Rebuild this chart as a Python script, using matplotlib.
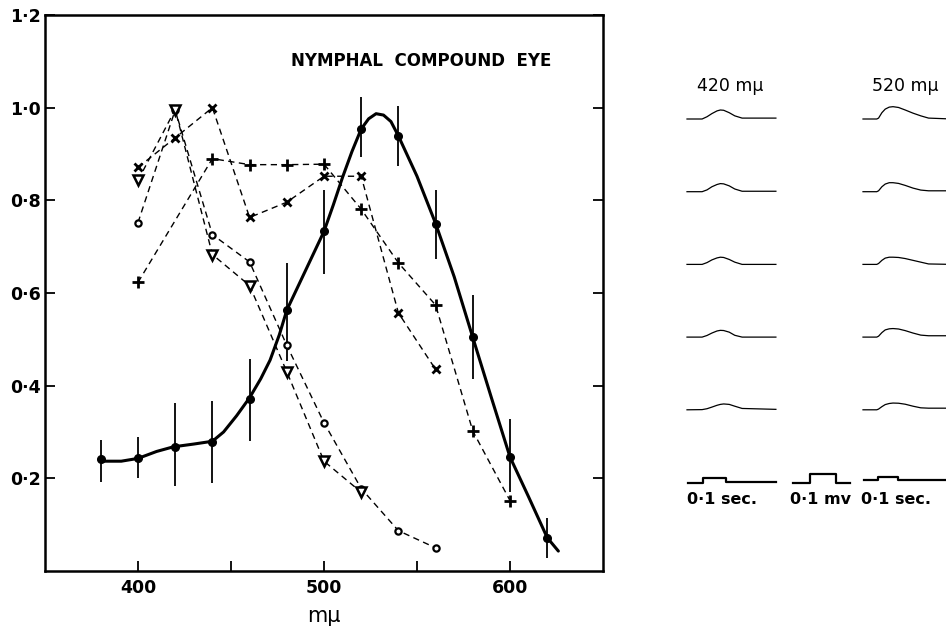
import matplotlib
matplotlib.use('Agg')
import matplotlib.pyplot as plt

# ---- main spectral sensitivity data ----
wl = [380, 400, 420, 440, 460, 480, 500, 520, 540, 560, 580, 600, 620]
mean_resp = [0.241, 0.243, 0.268, 0.278, 0.371, 0.563, 0.733, 0.954, 0.939, 0.750, 0.504, 0.246, 0.072]
err_lo = [0.193, 0.200, 0.184, 0.191, 0.281, 0.454, 0.641, 0.893, 0.874, 0.674, 0.415, 0.170, 0.028]
err_hi = [0.283, 0.289, 0.363, 0.367, 0.458, 0.665, 0.822, 1.022, 1.004, 0.822, 0.596, 0.329, 0.115]

# hand drawn smooth curve
curve_x = [381, 391, 400, 410, 419, 430, 440, 446, 453, 460, 466, 471, 476, 480, 490, 500, 505,
           510, 515, 520, 524, 528, 532, 536, 540, 550, 560, 570, 580, 590, 600, 610, 620, 626]
curve_y = [0.237, 0.237, 0.243, 0.258, 0.268, 0.274, 0.280, 0.300, 0.335, 0.374, 0.415, 0.455,
           0.510, 0.563, 0.648, 0.733, 0.790, 0.850, 0.905, 0.954, 0.976, 0.987, 0.984, 0.970,
           0.939, 0.852, 0.750, 0.635, 0.504, 0.374, 0.246, 0.160, 0.072, 0.043]

# individual animals (dashed)
circ_x = [400, 420, 440, 460, 480, 500, 520, 540, 560]
circ_y = [0.752, 0.995, 0.726, 0.667, 0.487, 0.320, 0.178, 0.087, 0.050]

tri_x = [400, 420, 440, 460, 480, 500, 520]
tri_y = [0.843, 0.996, 0.683, 0.616, 0.430, 0.237, 0.170]

cross_x = [400, 420, 440, 460, 480, 500, 520, 540, 560]
cross_y = [0.871, 0.935, 1.000, 0.763, 0.796, 0.852, 0.852, 0.557, 0.435]

plus_x = [400, 440, 460, 480, 500, 520, 540, 560, 580, 600]
plus_y = [0.623, 0.890, 0.877, 0.877, 0.878, 0.781, 0.665, 0.574, 0.302, 0.152]

# ---- recordings (time in ms, potential in mV) ----
t420 = [0, 68, 90, 112, 135, 150, 165, 190, 215, 248, 400]
rec420 = [
    [0, 0, 0.025, 0.060, 0.090, 0.100, 0.097, 0.070, 0.035, 0.010, 0.010],
    [0, 0, 0.020, 0.055, 0.080, 0.090, 0.087, 0.065, 0.030, 0.005, 0.005],
    [0, 0, 0.020, 0.050, 0.072, 0.080, 0.077, 0.055, 0.025, 0.000, 0.000],
    [0, 0, 0.018, 0.045, 0.068, 0.075, 0.073, 0.055, 0.020, 0.000, 0.000],
    [0, 0.002, 0.012, 0.030, 0.050, 0.060, 0.065, 0.060, 0.040, 0.015, 0.005],
]
t520 = [0, 62, 70, 85, 100, 118, 135, 160, 190, 225, 260, 295, 400]
rec520 = [
    [0, 0, 0.010, 0.070, 0.110, 0.132, 0.137, 0.128, 0.100, 0.065, 0.035, 0.010, 0.000],
    [0, 0, 0.010, 0.055, 0.085, 0.100, 0.100, 0.092, 0.070, 0.040, 0.018, 0.010, 0.010],
    [0, 0, 0.010, 0.045, 0.070, 0.080, 0.080, 0.077, 0.065, 0.045, 0.025, 0.005, 0.000],
    [0, 0, 0.010, 0.050, 0.080, 0.092, 0.095, 0.090, 0.072, 0.045, 0.022, 0.015, 0.015],
    [0, 0, 0.008, 0.035, 0.058, 0.070, 0.075, 0.073, 0.062, 0.040, 0.022, 0.018, 0.018],
]
stim420_t = [5, 72, 72, 175, 175, 400]
stim420_v = [0, 0, 0.045, 0.045, 0.005, 0.005]
cal_t = [0, 76, 76, 193, 193, 256]
cal_v = [0, 0, 0.1, 0.1, 0, 0]
stim520_t = [5, 68, 68, 158, 158, 400]
stim520_v = [0.005, 0.005, 0.040, 0.040, 0.010, 0.010]

ytick_vals = [0.2, 0.4, 0.6, 0.8, 1.0, 1.2]
ytick_labels = ['0·2', '0·4', '0·6', '0·8', '1·0', '1·2']
xtick_vals = [400, 450, 500, 550, 600]
xtick_labels = ['400', '', '500', '', '600']

W, H = 946, 630
fig = plt.figure(figsize=(W / 100, H / 100), dpi=100)

# main panel
ax = fig.add_axes([45 / W, 1 - 571 / H, (603 - 45) / W, (571 - 15) / H])
ax.set_xlim(350, 650)
ax.set_ylim(0, 1.2)

dash = dict(color='black', lw=1.0, dashes=(4.5, 3.2))
ax.plot(circ_x, circ_y, marker='o', ms=4.5, mfc='white', mec='black', mew=1.6, zorder=3, **dash)
ax.plot(cross_x, cross_y, marker='x', ms=5.5, mew=2.0, mec='black', zorder=3, **dash)
ax.plot(plus_x, plus_y, marker='+', ms=8, mew=2.0, mec='black', zorder=3, **dash)
ax.plot(tri_x, tri_y, marker='v', ms=7, mfc='white', mec='black', mew=1.8, zorder=4, **dash)

ax.vlines(wl, err_lo, err_hi, color='black', lw=1.3, zorder=2)
ax.plot(curve_x, curve_y, color='black', lw=2.2, solid_capstyle='round', zorder=2)
ax.plot(wl, mean_resp, 'o', color='black', ms=5.5, zorder=5)

ax.set_xticks(xtick_vals)
ax.set_xticklabels(xtick_labels)
ax.set_yticks(ytick_vals)
ax.set_yticklabels(ytick_labels)
ax.tick_params(direction='in', length=7, width=1.3, right=True, top=False,
               labelsize=12.5, pad=6)
ax.tick_params(axis='y', pad=3)
for lab in ax.get_xticklabels() + ax.get_yticklabels():
    lab.set_fontweight('bold')
for s in ax.spines.values():
    s.set_linewidth(1.8)

ax.set_xlabel('mμ', fontsize=15, labelpad=6)
ax.text(552, 1.10, 'NYMPHAL  COMPOUND  EYE', ha='center', va='center',
        fontsize=12, fontweight='bold')

# recordings panel: 1 px = 4.5 ms horizontally, 1 px = 0.0111 mV vertically
px_ms, px_mv = 4.5, 0.1 / 9
ax2 = fig.add_axes([680 / W, 1 - 530 / H, (W - 680) / W, (530 - 60) / H])
ax2.set_xlim((680 - 687) * px_ms, (W - 687) * px_ms)
ax2.set_ylim((119 - 530) * px_mv, (119 - 60) * px_mv)
ax2.axis('off')

row_gap = 72.7 * px_mv
col2_x0 = (863 - 687) * px_ms
cal_x0 = (793 - 687) * px_ms

for i, tr in enumerate(rec420):
    ax2.plot(t420, [v - i * row_gap for v in tr], color='black', lw=0.9)
for i, tr in enumerate(rec520):
    ax2.plot([t + col2_x0 for t in t520], [v - i * row_gap for v in tr], color='black', lw=0.9)

stim_y = -5 * row_gap
ax2.plot(stim420_t, [v + stim_y for v in stim420_v], color='black', lw=1.6)
ax2.plot([t + cal_x0 for t in cal_t], [v + stim_y for v in cal_v], color='black', lw=1.6)
ax2.plot([t + col2_x0 for t in stim520_t], [v + stim_y + 0.02 for v in stim520_v], color='black', lw=1.6)

ax2.text(193, (119 - 86) * px_mv, '420 mμ', ha='center', va='center', fontsize=12.5)
ax2.text(col2_x0 + 190, (119 - 86) * px_mv, '520 mμ', ha='center', va='center', fontsize=12.5)
lab_y = (119 - 500) * px_mv
ax2.text(157, lab_y, '0·1 sec.', ha='center', va='center', fontsize=11.5, fontweight='bold')
ax2.text(cal_x0 + 125, lab_y, '0·1 mv', ha='center', va='center', fontsize=11.5, fontweight='bold')
ax2.text(col2_x0 + 150, lab_y, '0·1 sec.', ha='center', va='center', fontsize=11.5, fontweight='bold')

fig.savefig('out.png', dpi=100)
